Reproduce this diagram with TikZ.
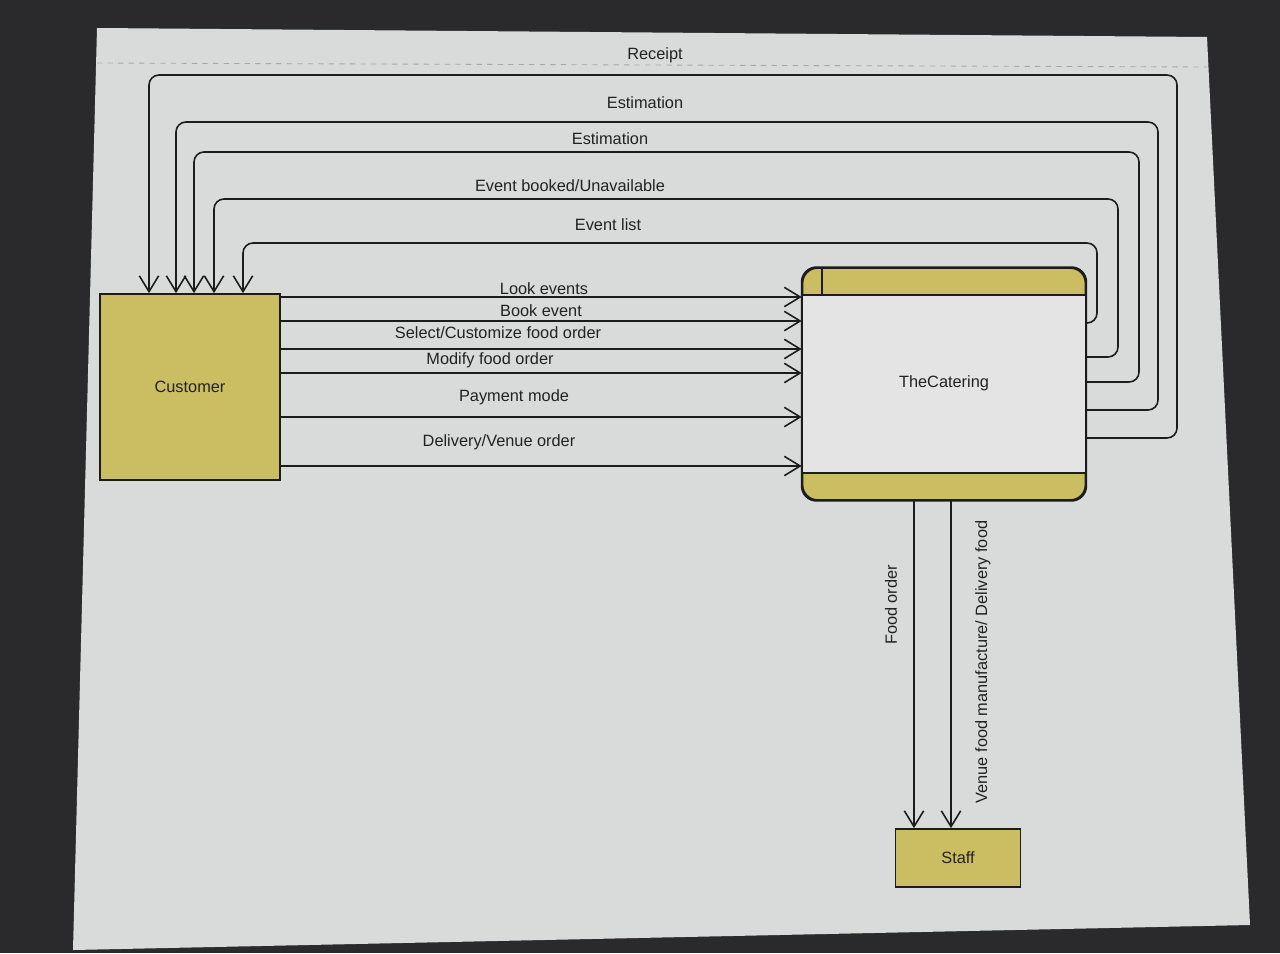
\documentclass[tikz,border=0pt]{standalone}
\usepackage{fontspec}
\setmainfont{Liberation Sans}
\usetikzlibrary{arrows.meta}
\definecolor{screenbg}{HTML}{2A2A2C}
\definecolor{pagec}{HTML}{D9DBDB}
\definecolor{dfdyellow}{HTML}{CBBD62}
\definecolor{procfill}{HTML}{E3E4E3}
\definecolor{linec}{HTML}{1C1C1C}
\definecolor{txtc}{HTML}{222222}
\begin{document}
\begin{tikzpicture}[x=0.02cm,y=-0.02cm,
    entity/.style={draw=linec,line width=1pt,fill=dfdyellow,minimum width=3.6cm,minimum height=3.72cm},
    flow/.style={-{Straight Barb[length=9pt,width=11pt]},line width=.9pt,draw=linec},
    lbl/.style={font=\fontsize{9.3}{11}\selectfont,text=txtc,inner sep=1pt}]
  \useasboundingbox (0,0) rectangle (1280,953);
  % screen and page
  \fill[screenbg] (0,0) rectangle (1280,953);
  \fill[pagec] (97,28) -- (1207,37) -- (1250,925) -- (73,950) -- cycle;
  \draw[gray!70,dashed,line width=.5pt] (97,63) -- (1207,67);
  % external entities
  \node[entity] (cust) at (190,387) {};
  \node[lbl] at (cust) {Customer};
  \node[entity,minimum width=2.5cm,minimum height=1.16cm] (staff) at (958,858) {};
  \node[lbl] at (staff) {Staff};
  % process
  \node[draw=linec,line width=1pt,fill=dfdyellow,rounded corners=.3cm,
        minimum width=5.66cm,minimum height=4.64cm] (cat) at (944,384) {};
  \fill[procfill] (803,295) rectangle (1085,473);
  \draw[linec,line width=1pt] (803,295) -- (1085,295);
  \draw[linec,line width=1pt] (803,473) -- (1085,473);
  \draw[linec,line width=1pt] (822,268) -- (822,295);
  \draw[linec,line width=1pt,rounded corners=.3cm] (cat.north west) rectangle (cat.south east);
  \node[lbl] at (944,383) {TheCatering};
  % customer -> catering
  \foreach \ya/\yl/\xl/\lab in {
    297/289/544/{Look events},
    321/311/541/{Book event},
    349/333/498/{Select/Customize food order},
    373/360/490/{Modify food order},
    417/397/514/{Payment mode},
    466/442/499/{Delivery/Venue order}} {
    \draw[flow] (cust.east |- 0,\ya) -- (cat.west |- 0,\ya);
    \node[lbl] at (\xl,\yl) {\lab};
  }
  % catering -> customer
  \foreach \yo/\xr/\yt/\xe/\lx/\ly/\lab in {
    438/1177/75/149/655/55/{Receipt},
    410/1158/122/176/645/103/{Estimation},
    382/1139/152/194/610/139/{Estimation},
    357/1118/199/214/570/186/{Event booked/Unavailable},
    323/1097/243/243/608/225/{Event list}} {
    \draw[flow,rounded corners=.2cm] (cat.east |- 0,\yo) -- (\xr,\yo) -- (\xr,\yt)
      -- (\xe,\yt) -- (cust.north -| \xe,0);
    \node[lbl] at (\lx,\ly) {\lab};
  }
  % catering -> staff
  \draw[flow] (cat.south -| 914,0) -- (staff.north -| 914,0);
  \draw[flow] (cat.south -| 951,0) -- (staff.north -| 951,0);
  \node[lbl,rotate=90] at (891,605) {Food order};
  \node[lbl,rotate=90] at (983,662) {Venue food manufacture/ Delivery food};
\end{tikzpicture}
\end{document}
